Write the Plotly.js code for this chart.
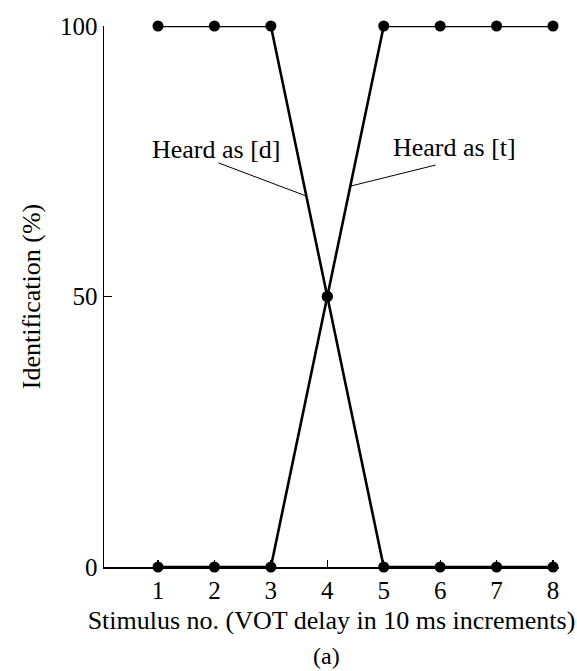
<!DOCTYPE html>
<html>
<head>
<meta charset="utf-8">
<script src="https://cdn.plot.ly/plotly-3.0.1.min.js"></script>
<style>html,body{margin:0;padding:0;background:#fff;}#chart{width:577px;height:671px;}</style>
</head>
<body>
<div id="chart"></div>
<script>
const stimulus = [1, 2, 3, 4, 5, 6, 7, 8];
const heardD = [100, 100, 100, 50, 0, 0, 0, 0];
const heardT = [0, 0, 0, 50, 100, 100, 100, 100];
const yTickVals = [0, 50, 100];
const yTickText = ['0', '50', '100'];
const xTickVals = [1, 2, 3, 4, 5, 6, 7, 8];
const labelD = 'Heard as [d]';
const labelT = 'Heard as [t]';
const xTitle = 'Stimulus no. (VOT delay in 10 ms increments)';
const yTitle = 'Identification (%)';
const caption = '(a)';

const FONT = 'Liberation Serif, Times New Roman, serif';
const lineStyle = {color: '#000', width: 2.6};
const markerStyle = {color: '#000', size: 11, symbol: 'circle'};

const traces = [
  {x: stimulus, y: heardD, mode: 'lines+markers', line: lineStyle, marker: markerStyle, cliponaxis: false, showlegend: false, name: labelD},
  {x: stimulus, y: heardT, mode: 'lines+markers', line: lineStyle, marker: markerStyle, cliponaxis: false, showlegend: false, name: labelT}
];

const layout = {
  width: 577, height: 671,
  margin: {l: 104, r: 18, t: 26, b: 104},
  paper_bgcolor: '#fff', plot_bgcolor: '#fff',
  font: {family: FONT, size: 26, color: '#000'},
  showlegend: false,
  xaxis: {
    range: [0.043, 8.106],
    tickvals: xTickVals,
    ticks: 'inside', ticklen: 7, tickwidth: 1.2, tickcolor: '#000',
    showline: true, linecolor: '#000', linewidth: 1.5,
    showgrid: false, zeroline: false,
    tickfont: {family: FONT, size: 25, color: '#000'},
    ticklabelstandoff: 0,
    title: {text: xTitle, font: {family: FONT, size: 26, color: '#000'}, standoff: 8}
  },
  yaxis: {
    range: [0, 100],
    tickvals: yTickVals, ticktext: yTickText,
    ticks: 'inside', ticklen: 8, tickwidth: 1.2, tickcolor: '#000',
    showline: true, linecolor: '#000', linewidth: 1.5,
    showgrid: false, zeroline: false,
    tickfont: {family: FONT, size: 25, color: '#000'},
    ticklabelstandoff: 0,
    title: {text: yTitle, font: {family: FONT, size: 26, color: '#000'}, standoff: 12}
  },
  annotations: [
    {x: 2.04, y: 77.1, xref: 'x', yref: 'y', text: labelD, showarrow: false, xanchor: 'center', yanchor: 'middle', font: {family: FONT, size: 26, color: '#000'}},
    {x: 6.25, y: 77.5, xref: 'x', yref: 'y', text: labelT, showarrow: false, xanchor: 'center', yanchor: 'middle', font: {family: FONT, size: 26, color: '#000'}},
    {x: 0.49, y: -0.165, xref: 'paper', yref: 'paper', text: caption, showarrow: false, xanchor: 'center', yanchor: 'middle', font: {family: FONT, size: 24, color: '#000'}}
  ],
  shapes: [
    {type: 'line', xref: 'x', yref: 'y', x0: 2.07, y0: 74.7, x1: 3.62, y1: 68.6, line: {color: '#000', width: 1}},
    {type: 'line', xref: 'x', yref: 'y', x0: 5.92, y0: 74.3, x1: 4.41, y1: 70.4, line: {color: '#000', width: 1}}
  ]
};

Plotly.newPlot('chart', traces, layout, {displayModeBar: false, staticPlot: true});
</script>
</body>
</html>
